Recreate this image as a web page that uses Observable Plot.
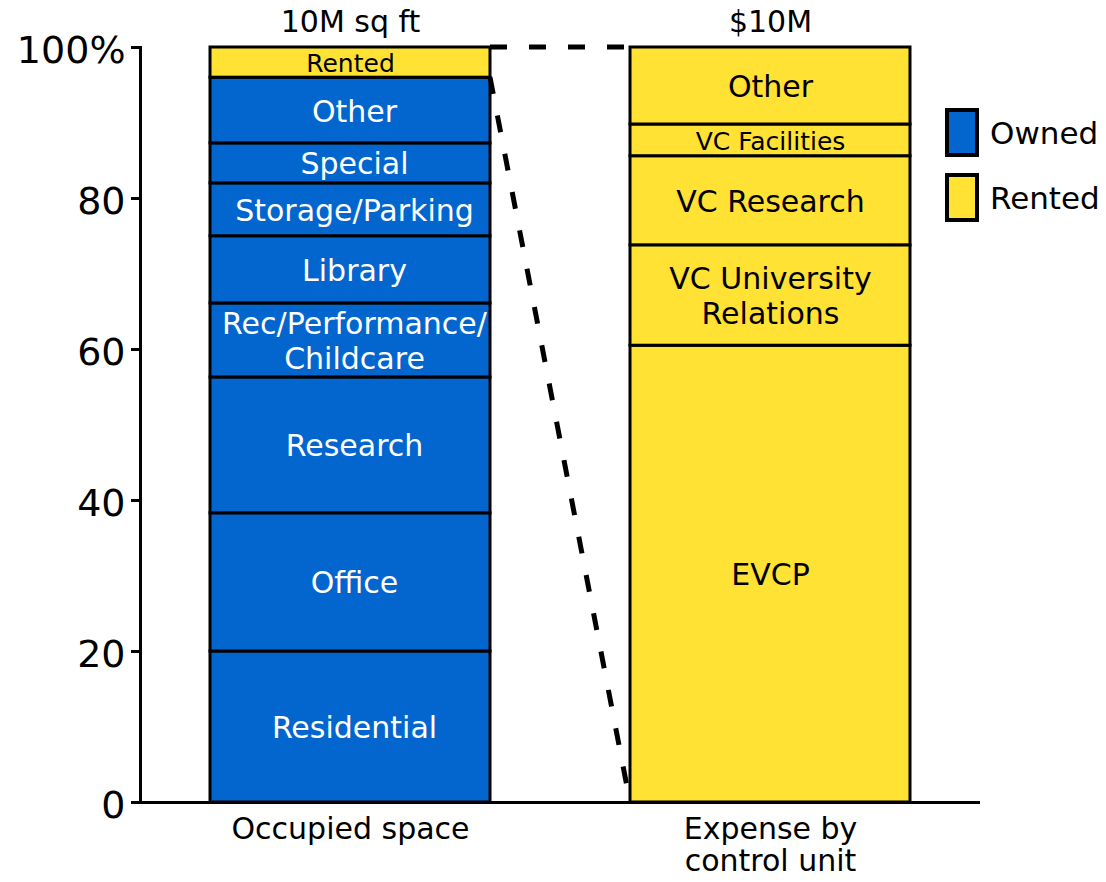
<!DOCTYPE html>
<html>
<head>
<meta charset="utf-8">
<script src="https://cdn.jsdelivr.net/npm/d3@7"></script>
<script src="https://cdn.jsdelivr.net/npm/@observablehq/plot@0.6"></script>
<style>
  body { margin: 0; background: white; font-family: "DejaVu Sans", sans-serif; }
  #wrap { position: relative; width: 1106px; height: 882px; }
  #legend { position: absolute; left: 945px; top: 108px; }
  .item { display: flex; align-items: center; height: 49px; margin-bottom: 16px; }
  .sw { width: 26px; height: 41px; border: 4px solid black; margin-right: 11px; }
  .lab { font-size: 31px; color: black; }
</style>
</head>
<body>
<div id="wrap"></div>
<script>
// ---- data ----
const categories = ["Occupied space", "Expense by control unit"];
const categoryLabels = ["Occupied space", "Expense by\ncontrol unit"];
const totals = ["10M sq ft", "$10M"];
const legendKeys = ["Owned", "Rented"];
const legendColors = ["#0366ce", "#ffe233"];
const yTicks = [0, 20, 40, 60, 80, 100];

const spaceLabels = ["Residential", "Office", "Research", "Rec/Performance/\nChildcare", "Library", "Storage/Parking", "Special", "Other", "Rented"];
const spaceValues = [20.0, 18.3, 18.0, 9.8, 8.9, 7.0, 5.3, 8.7, 4.0];
const spaceTypes = ["Owned", "Owned", "Owned", "Owned", "Owned", "Owned", "Owned", "Owned", "Rented"];

const expenseLabels = ["EVCP", "VC University\nRelations", "VC Research", "VC Facilities", "Other"];
const expenseValues = [60.5, 13.3, 11.8, 4.2, 10.2];
const expenseTypes = ["Rented", "Rented", "Rented", "Rented", "Rented"];

// ---- tables ----
const rows = [
  ...spaceLabels.map((label, i) => ({bar: categories[0], label, value: spaceValues[i], type: spaceTypes[i]})),
  ...expenseLabels.map((label, i) => ({bar: categories[1], label, value: expenseValues[i], type: expenseTypes[i]}))
];
const totalRows = categories.map((bar, i) => ({bar, label: totals[i]}));
const rentedShare = spaceValues[spaceTypes.indexOf("Rented")];

const labelSize = d => d.value < 5 ? 25 : 30;
const textOpts = {x: "bar", y: "value", text: "label", fontSize: labelSize, lineHeight: 1.15};

const plot = Plot.plot({
  width: 1106,
  height: 882,
  marginLeft: 140,
  marginRight: 126,
  marginTop: 47,
  marginBottom: 80,
  style: {fontFamily: "DejaVu Sans, sans-serif", color: "black", background: "white"},
  x: {domain: categories, paddingInner: 1/3, paddingOuter: 1/6},
  y: {domain: [0, 100]},
  color: {domain: legendKeys, range: legendColors},
  marks: [
    Plot.barY(rows, {x: "bar", y: "value", fill: "type", stroke: "black", strokeWidth: 3}),
    Plot.text(rows, Plot.filter(d => d.type === "Owned", Plot.stackY({...textOpts, fill: "white", dx: 4}))),
    Plot.text(rows, Plot.filter(d => d.type !== "Owned", Plot.stackY({...textOpts, fill: "black"}))),
    Plot.text(totalRows, {x: "bar", text: "label", frameAnchor: "top", lineAnchor: "middle", dy: -25, fontSize: 30, fill: "black"}),
    Plot.axisY({ticks: yTicks, tickFormat: () => "", tickSize: 9, strokeWidth: 3, label: null}),
    Plot.axisY({ticks: yTicks, tickFormat: d => d === 100 ? "100%" : String(d), fontSize: 38, tickSize: 0, tickPadding: 15, dy: 3, label: null}),
    Plot.axisX({tickSize: 0, tickPadding: 14, fontSize: 30, lineHeight: 1.07, label: null, tickFormat: d => categoryLabels[categories.indexOf(d)]}),
    Plot.ruleY([0], {strokeWidth: 3}),
    Plot.frame({anchor: "left", strokeWidth: 3})
  ]
});

document.getElementById("wrap").appendChild(plot);

// dashed connectors: the rented share of space maps onto the whole expense bar
const sx = plot.scale("x"), sy = plot.scale("y");
const connectors = [
  {from: 100, to: 100},
  {from: 100 - rentedShare, to: 0}
];
const x1 = sx.apply(categories[0]) + sx.bandwidth;
const x2 = sx.apply(categories[1]);
d3.select(plot).append("g")
  .attr("stroke", "black").attr("stroke-width", 5).attr("stroke-dasharray", "17,22").attr("fill", "none")
  .selectAll("line").data(connectors).join("line")
  .attr("x1", x1).attr("x2", x2)
  .attr("y1", d => sy.apply(d.from)).attr("y2", d => sy.apply(d.to));

// legend
const legend = d3.select("#wrap").append("div").attr("id", "legend");
const item = legend.selectAll(".item").data(legendKeys).join("div").attr("class", "item");
item.append("div").attr("class", "sw").style("background", (d, i) => legendColors[i]);
item.append("div").attr("class", "lab").text(d => d);
</script>
</body>
</html>
